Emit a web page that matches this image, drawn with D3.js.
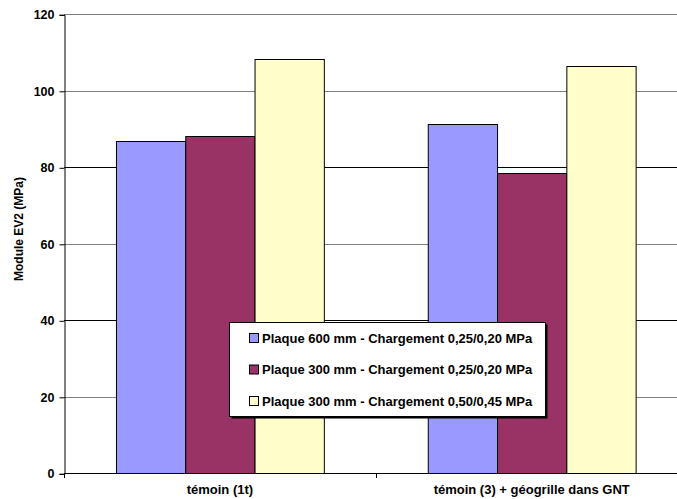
<!DOCTYPE html>
<html>
<head>
<meta charset="utf-8">
<script src="https://cdn.jsdelivr.net/npm/d3@7"></script>
<style>
  html, body { margin: 0; padding: 0; background: #fff; }
  svg { display: block; font-family: "Liberation Sans", Arial, sans-serif; }
</style>
</head>
<body>
<svg id="chart" width="677" height="499"></svg>
<script>
// Module EV2 measured per test section and plate/loading configuration
const categories = ["témoin (1t)", "témoin (3) + géogrille dans GNT"];
const seriesNames = [
  "Plaque 600 mm - Chargement 0,25/0,20 MPa",
  "Plaque 300 mm - Chargement 0,25/0,20 MPa",
  "Plaque 300 mm - Chargement 0,50/0,45 MPa"
];
const plaque600_025 = [86.8, 91.2];
const plaque300_025 = [88.3, 78.6];
const plaque300_050 = [108.3, 106.4];
const yTicks = [0, 20, 40, 60, 80, 100, 120];
const yTitle = "Module EV2 (MPa)";

const seriesValues = [plaque600_025, plaque300_025, plaque300_050];
const colors = ["#9999FF", "#993366", "#FFFFCC"];
const FONT = "'Liberation Sans', Arial, sans-serif";

const svg = d3.select("#chart");
const plotLeft = 64, plotTop = 14.3, plotBottom = 473.3;
const step = 311.8;
const plotRight = plotLeft + step * categories.length;

const y = d3.scaleLinear().domain([0, 120]).range([plotBottom, plotTop]);
// Excel-style: gap width 150% of a bar, bars touching within a group
const groupW = step * 3 / 4.5;
const x1 = d3.scaleBand().domain(d3.range(3)).range([0, groupW]);

// Gridlines
svg.append("g").selectAll("line")
  .data(yTicks.filter(t => t > 0))
  .join("line")
  .attr("x1", plotLeft).attr("x2", plotRight)
  .attr("y1", d => Math.round(y(d)) + 0.5).attr("y2", d => Math.round(y(d)) + 0.5)
  .attr("stroke", d => (d === 40 || d === 80) ? "#000" : "#808080")
  .attr("stroke-width", 1);

// Bars
const groups = svg.append("g").selectAll("g")
  .data(categories)
  .join("g")
  .attr("transform", (c, i) => `translate(${plotLeft + step * i + (step - groupW) / 2},0)`);

groups.selectAll("rect")
  .data((c, i) => seriesValues.map((vals, s) => ({ s, v: vals[i] })))
  .join("rect")
  .attr("x", d => x1(d.s) + 0.5)
  .attr("width", x1.bandwidth())
  .attr("y", d => Math.round(y(d.v)) + 0.5)
  .attr("height", d => Math.round(plotBottom) - Math.round(y(d.v)))
  .attr("fill", d => colors[d.s])
  .attr("stroke", "#000")
  .attr("stroke-width", 1);

// Y axis
const yAxis = d3.axisLeft(y).tickValues(yTicks).tickSize(5).tickPadding(5);
const gy = svg.append("g").attr("transform", `translate(${plotLeft + 0.5},0.5)`).call(yAxis);
gy.select(".domain").attr("stroke", "#000");
gy.selectAll(".tick line").attr("stroke", "#000");
gy.selectAll(".tick text").attr("font-size", "12.5px").attr("font-weight", "bold")
  .attr("fill", "#000").attr("font-family", FONT);

// X axis
const xAxisLine = svg.append("g");
xAxisLine.append("line")
  .attr("x1", plotLeft).attr("x2", plotRight)
  .attr("y1", Math.round(plotBottom) + 0.5).attr("y2", Math.round(plotBottom) + 0.5)
  .attr("stroke", "#000");
xAxisLine.selectAll("line.tk")
  .data(d3.range(categories.length + 1))
  .join("line").attr("class", "tk")
  .attr("x1", i => Math.round(plotLeft + step * i) + 0.5).attr("x2", i => Math.round(plotLeft + step * i) + 0.5)
  .attr("y1", Math.round(plotBottom)).attr("y2", Math.round(plotBottom) + 5)
  .attr("stroke", "#000");
svg.append("g").selectAll("text")
  .data(categories)
  .join("text")
  .attr("x", (c, i) => plotLeft + step * i + step / 2)
  .attr("y", 494)
  .attr("text-anchor", "middle")
  .attr("font-size", "13px").attr("font-weight", "bold")
  .text(d => d);

// Y title
svg.append("text")
  .attr("transform", `translate(23,229) rotate(-90)`)
  .attr("text-anchor", "middle")
  .attr("font-size", "12px").attr("font-weight", "bold")
  .text(yTitle);

// Legend
const lg = svg.append("g");
lg.append("rect").attr("x", 231.5).attr("y", 324.5).attr("width", 316).attr("height", 94).attr("fill", "#000");
lg.append("rect").attr("x", 229.5).attr("y", 322.5).attr("width", 316).attr("height", 94)
  .attr("fill", "#fff").attr("stroke", "#000");
const items = lg.selectAll("g.it").data(seriesNames).join("g").attr("class", "it")
  .attr("transform", (d, i) => `translate(0,${338 + i * 31.5})`);
items.append("rect").attr("x", 249.5).attr("y", -4.5).attr("width", 9).attr("height", 9)
  .attr("fill", (d, i) => colors[i]).attr("stroke", "#000");
items.append("text").attr("x", 262).attr("y", 4.6)
  .attr("font-size", "13px").attr("font-weight", "bold").text(d => d);
</script>
</body>
</html>
